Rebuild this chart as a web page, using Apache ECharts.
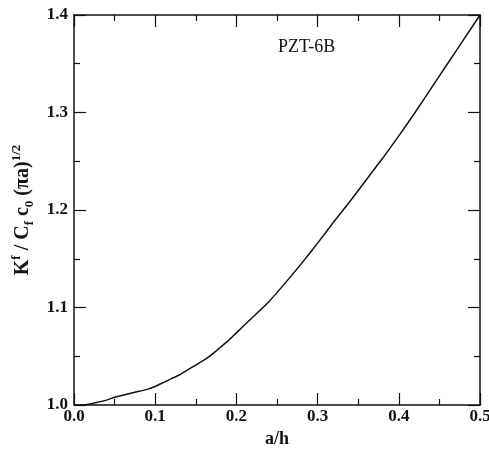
<!DOCTYPE html>
<html>
<head>
<meta charset="utf-8">
<script src="https://cdn.jsdelivr.net/npm/echarts@6/dist/echarts.min.js"></script>
<style>
  html, body { margin: 0; padding: 0; background: #fff; }
  #chart { width: 489px; height: 449px; }
</style>
</head>
<body>
<div id="chart"></div>
<script>
// crack length ratio a/h
const ratio = [
  0.00, 0.01, 0.02, 0.03, 0.04, 0.05, 0.06, 0.07, 0.08, 0.09,
  0.10, 0.11, 0.12, 0.13, 0.14, 0.15, 0.16, 0.17, 0.18, 0.19,
  0.20, 0.22, 0.24, 0.26, 0.28, 0.30, 0.32, 0.34, 0.36, 0.38,
  0.40, 0.42, 0.44, 0.46, 0.48, 0.50
];
// normalised intensity factor, PZT-6B
const intensity = [
  1.000, 1.000, 1.001, 1.003, 1.005, 1.008, 1.010, 1.012, 1.014, 1.016,
  1.019, 1.023, 1.027, 1.031, 1.036, 1.041, 1.046, 1.052, 1.059, 1.066,
  1.074, 1.090, 1.106, 1.125, 1.145, 1.166, 1.188, 1.209, 1.231, 1.253,
  1.276, 1.300, 1.325, 1.350, 1.375, 1.400
];
const xTickLabels = ['0.0', '0.1', '0.2', '0.3', '0.4', '0.5'];
const yTickLabels = ['1.0', '1.1', '1.2', '1.3', '1.4'];
const materialLabel = 'PZT-6B';

const serif = '"Liberation Serif", "DejaVu Serif", serif';
const black = '#111';

const baseAxis = {
  type: 'value',
  axisLine: { show: true, onZero: false, lineStyle: { color: black, width: 1.5 } },
  axisTick: { show: true, inside: true, length: 12, lineStyle: { color: black, width: 1.2 } },
  minorTick: { show: true, splitNumber: 2, length: 6, lineStyle: { color: black, width: 1.2 } },
  splitLine: { show: false },
  minorSplitLine: { show: false }
};

const chart = echarts.init(document.getElementById('chart'));
chart.setOption({
  animation: false,
  backgroundColor: '#fff',
  grid: { left: 74, right: 9, top: 15, bottom: 44, outerBoundsMode: 'none', containLabel: false },
  graphic: [{
    type: 'text',
    left: 278,
    top: 38,
    style: {
      text: materialLabel,
      font: '18px ' + serif,
      fill: black,
      textAlign: 'center'
    }
  }],
  xAxis: [
    Object.assign({}, baseAxis, {
      position: 'bottom',
      min: 0, max: 0.5, interval: 0.1,
      name: 'a/h',
      nameLocation: 'middle',
      nameGap: 20,
      nameTextStyle: { fontFamily: serif, fontWeight: 'bold', fontSize: 18, color: black },
      axisLabel: {
        margin: 3,
        fontFamily: serif, fontWeight: 'bold', fontSize: 17, color: black,
        formatter: v => xTickLabels[Math.round(v * 10)]
      }
    }),
    Object.assign({}, baseAxis, {
      position: 'top',
      min: 0, max: 0.5, interval: 0.1,
      axisLabel: { show: false }
    })
  ],
  yAxis: [
    Object.assign({}, baseAxis, {
      position: 'left',
      min: 1.0, max: 1.4, interval: 0.1,
      name: '{m|K}{sup|f}{m| / C}{sub|f}{m| c}{sub|0}{m| (πa)}{sup|1/2}',
      nameLocation: 'middle',
      nameGap: 38,
      nameTextStyle: {
        color: black,
        rich: {
          m: { fontFamily: serif, fontWeight: 'bold', fontSize: 20, color: black, lineHeight: 26, verticalAlign: 'middle' },
          sup: { fontFamily: serif, fontWeight: 'bold', fontSize: 13, color: black, lineHeight: 26, verticalAlign: 'top' },
          sub: { fontFamily: serif, fontWeight: 'bold', fontSize: 13, color: black, lineHeight: 26, verticalAlign: 'bottom' }
        }
      },
      axisLabel: {
        margin: 6,
        fontFamily: serif, fontWeight: 'bold', fontSize: 17, color: black,
        formatter: v => yTickLabels[Math.round((v - 1) * 10)]
      }
    }),
    Object.assign({}, baseAxis, {
      position: 'right',
      min: 1.0, max: 1.4, interval: 0.1,
      axisLabel: { show: false }
    })
  ],
  series: [{
    type: 'line',
    data: ratio.map((a, i) => [a, intensity[i]]),
    smooth: 0.2,
    showSymbol: false,
    lineStyle: { color: black, width: 1.5 }
  }]
});
</script>
</body>
</html>
